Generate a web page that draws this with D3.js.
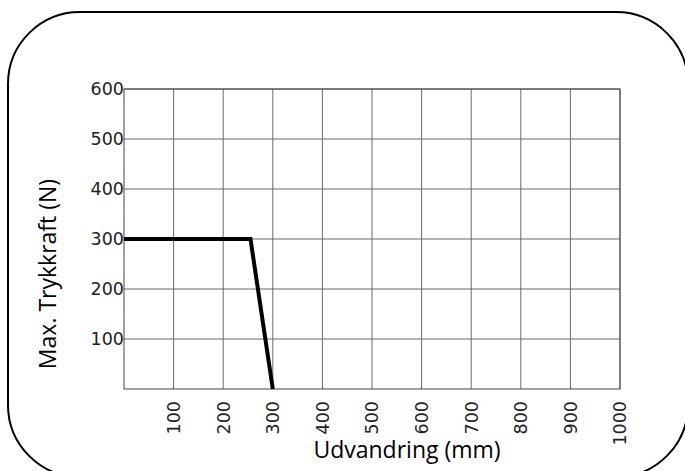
<!DOCTYPE html>
<html>
<head>
<meta charset="utf-8">
<script src="https://cdn.jsdelivr.net/npm/d3@7"></script>
<style>
  html, body { margin: 0; padding: 0; background: #fff; }
  svg { display: block; }
</style>
</head>
<body>
<div id="chart"></div>
<script>
// chart data
const xTicks = [100, 200, 300, 400, 500, 600, 700, 800, 900, 1000];
const yTicks = [100, 200, 300, 400, 500, 600];
const strokeMm = [0, 255, 300];
const forceN = [300, 300, 0];

const W = 685, H = 471;
const margin = { top: 89, right: 65, bottom: 82, left: 124 };
const width = W - margin.left - margin.right;
const height = H - margin.top - margin.bottom;

const svg = d3.select('#chart')
    .append('svg')
    .attr('width', W)
    .attr('height', H);

// rounded frame
svg.append('rect')
    .attr('x', 8)
    .attr('y', 12)
    .attr('width', 680)
    .attr('height', 465)
    .attr('rx', 72)
    .attr('fill', 'none')
    .attr('stroke', '#000')
    .attr('stroke-width', 2);

const g = svg.append('g')
    .attr('transform', `translate(${margin.left},${margin.top})`);

const x = d3.scaleLinear().domain([0, 1000]).range([0, width]);
const y = d3.scaleLinear().domain([0, 600]).range([height, 0]);

// grid
g.selectAll('.vgrid')
    .data(xTicks)
    .enter()
    .append('line')
    .attr('x1', d => x(d)).attr('x2', d => x(d))
    .attr('y1', 0).attr('y2', height)
    .attr('stroke', '#6a6a6a')
    .attr('stroke-width', 1);

g.selectAll('.hgrid')
    .data(yTicks)
    .enter()
    .append('line')
    .attr('x1', 0).attr('x2', width)
    .attr('y1', d => y(d)).attr('y2', d => y(d))
    .attr('stroke', '#6a6a6a')
    .attr('stroke-width', 1);

// plot border
g.append('rect')
    .attr('width', width)
    .attr('height', height)
    .attr('fill', 'none')
    .attr('stroke', '#444')
    .attr('stroke-width', 1);

// y tick labels
g.selectAll('.ylab')
    .data(yTicks)
    .enter()
    .append('text')
    .attr('x', 0)
    .attr('y', d => y(d))
    .attr('dy', '0.36em')
    .attr('text-anchor', 'end')
    .attr('font-family', 'DejaVu Sans')
    .attr('font-size', '17.5px')
    .attr('fill', '#222')
    .text(d => d);

// x tick labels (rotated)
g.selectAll('.xlab')
    .data(xTicks)
    .enter()
    .append('text')
    .attr('transform', d => `translate(${x(d)},${height + 12}) rotate(-90)`)
    .attr('dy', '0.36em')
    .attr('text-anchor', 'end')
    .attr('font-family', 'DejaVu Sans')
    .attr('font-size', '17.5px')
    .attr('fill', '#222')
    .text(d => d);

// the curve
const line = d3.line()
    .x((d, i) => x(strokeMm[i]))
    .y(d => y(d));

g.append('path')
    .datum(forceN)
    .attr('d', line)
    .attr('fill', 'none')
    .attr('stroke', '#000')
    .attr('stroke-width', 4)
    .attr('stroke-linejoin', 'miter');

// axis titles
svg.append('text')
    .attr('x', 407)
    .attr('y', 458)
    .attr('text-anchor', 'middle')
    .attr('font-family', 'Open Sans')
    .attr('font-size', '23px')
    .attr('fill', '#000')
    .text('Udvandring (mm)');

svg.append('text')
    .attr('transform', 'translate(56,274) rotate(-90)')
    .attr('text-anchor', 'middle')
    .attr('font-family', 'Open Sans')
    .attr('font-size', '23px')
    .attr('fill', '#000')
    .text('Max. Trykkraft (N)');
</script>
</body>
</html>
